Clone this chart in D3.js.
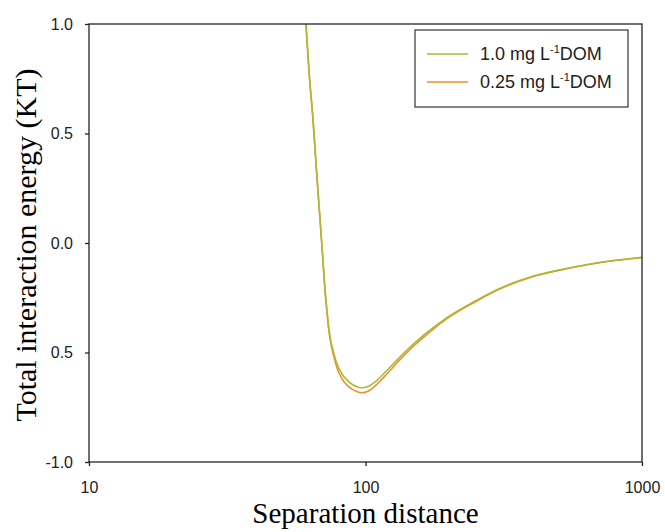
<!DOCTYPE html>
<html>
<head>
<meta charset="utf-8">
<script src="https://cdn.jsdelivr.net/npm/d3@7"></script>
<style>
  html, body { margin: 0; padding: 0; background: #fff; }
  svg { display: block; }
</style>
</head>
<body>
<svg id="chart" width="665" height="532"></svg>
<script>
// ---- data ----
const distances = [60.9, 62.5, 64.6, 66.5, 68.5, 70, 71.4, 72.7, 73.8, 75, 76.3, 78.9, 82.2, 85.7, 89.4, 93, 97, 102, 110, 120, 135, 150, 175, 200, 250, 300, 400, 500, 650, 800, 1000];
const dom100 = [1.0, 0.78, 0.562, 0.33, 0.105, -0.06, -0.215, -0.32, -0.397, -0.45, -0.489, -0.553, -0.598, -0.626, -0.645, -0.656, -0.661, -0.655, -0.627, -0.58, -0.513, -0.458, -0.388, -0.335, -0.264, -0.212, -0.153, -0.124, -0.096, -0.079, -0.065];
const dom025 = [1.0, 0.78, 0.562, 0.33, 0.105, -0.062, -0.22, -0.327, -0.406, -0.462, -0.503, -0.571, -0.619, -0.649, -0.667, -0.678, -0.684, -0.677, -0.645, -0.595, -0.525, -0.468, -0.395, -0.34, -0.268, -0.215, -0.155, -0.125, -0.097, -0.08, -0.066];
const seriesNames = ["1.0 mg L", "0.25 mg L"];
const seriesColors = ["#adb934", "#ef8e2c"];
const xTickValues = [10, 100, 1000];
const xTickLabels = ["10", "100", "1000"];
const yTickValues = [-1, -0.5, 0, 0.5, 1];
const yTickLabels = ["-1.0", "0.5", "0.0", "0.5", "1.0"];
const xTitle = "Separation distance";
const yTitle = "Total interaction energy (KT)";

// ---- layout ----
const L = 89, R = 642, T = 24, B = 462;
const svg = d3.select("#chart");
const x = d3.scaleLog().domain([10, 1000]).range([L, R]);
const y = d3.scaleLinear().domain([-1, 1]).range([B, T]);
const axisColor = "#222";

svg.append("defs").append("clipPath").attr("id", "clip")
  .append("rect").attr("x", L).attr("y", T).attr("width", R - L).attr("height", B - T);

// curves
const series = [dom100, dom025];
const line = d3.line().x((d, i) => x(distances[i])).y(d => y(d)).curve(d3.curveMonotoneX);
const g = svg.append("g").attr("clip-path", "url(#clip)");
[1, 0].forEach(k => {
  g.append("path").datum(series[k])
    .attr("d", line).attr("fill", "none")
    .attr("stroke", seriesColors[k]).attr("stroke-width", 1.6);
});

// frame
svg.append("rect").attr("x", L).attr("y", T).attr("width", R - L).attr("height", B - T)
  .attr("fill", "none").attr("stroke", axisColor).attr("stroke-width", 1.3);

// axes
const xAxis = d3.axisBottom(x).tickValues(xTickValues)
  .tickFormat((d, i) => xTickLabels[i]).tickSizeInner(4).tickSizeOuter(0).tickPadding(16);
const gx = svg.append("g").attr("transform", `translate(0,${B})`).call(xAxis);
const yAxis = d3.axisLeft(y).tickValues(yTickValues)
  .tickFormat((d, i) => yTickLabels[i]).tickSizeInner(4).tickSizeOuter(0).tickPadding(12);
const gy = svg.append("g").attr("transform", `translate(${L},0)`).call(yAxis);
[gx, gy].forEach(a => {
  a.select(".domain").remove();
  a.selectAll("line").attr("stroke", axisColor).attr("stroke-width", 1.3);
  a.selectAll("text").attr("fill", "#222").style("font-family", "'Liberation Sans', Arial, sans-serif").style("font-size", "16px");
});

// titles
svg.append("text").attr("x", (L + R) / 2).attr("y", 523).attr("text-anchor", "middle")
  .style("font-family", "'Liberation Serif', 'Times New Roman', serif").style("font-size", "29px")
  .attr("fill", "#000").text(xTitle);
svg.append("text").attr("transform", `translate(36,${(T + B) / 2 + 2}) rotate(-90)`).attr("text-anchor", "middle")
  .style("font-family", "'Liberation Serif', 'Times New Roman', serif").style("font-size", "30px")
  .attr("fill", "#000").text(yTitle);

// legend
const lg = svg.append("g");
lg.append("rect").attr("x", 415).attr("y", 30).attr("width", 213).attr("height", 77)
  .attr("fill", "#fff").attr("stroke", "#333").attr("stroke-width", 1.2);
[54, 82].forEach((ly, k) => {
  lg.append("line").attr("x1", 427).attr("x2", 468).attr("y1", ly).attr("y2", ly)
    .attr("stroke", seriesColors[k]).attr("stroke-width", 1.6);
  const t = lg.append("text").attr("x", 480).attr("y", ly + 6)
    .style("font-family", "'Liberation Sans', Arial, sans-serif").style("font-size", "18px").attr("fill", "#222");
  t.append("tspan").text(seriesNames[k]);
  t.append("tspan").attr("dy", -7).style("font-size", "11px").text("-1");
  t.append("tspan").attr("dy", 7).text("DOM");
});
</script>
</body>
</html>
